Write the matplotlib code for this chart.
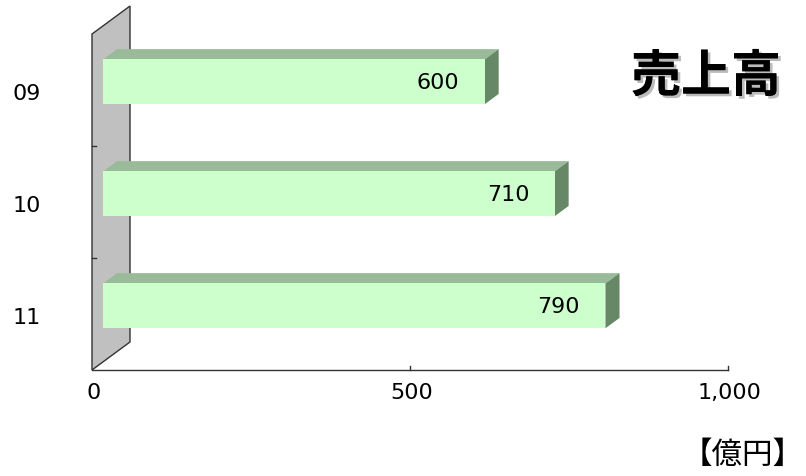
import numpy as np
import matplotlib
matplotlib.use('Agg')
import matplotlib.pyplot as plt
from matplotlib.patches import Polygon
import matplotlib.patheffects as pe

# ─── Datos ────────────────────────────────────────────────────────────────────
categorias = ["09", "10", "11"]
valores = [600, 710, 790]
ticks_x = [0, 500, 1000]
etiquetas_x = ["0", "500", "1,000"]
titulo = "売上高"
unidad = "【億円】"

plt.rcParams['font.family'] = ['Noto Sans CJK JP', 'DejaVu Sans']
NUM = ['DejaVu Sans']

W, H = 806, 477
fig = plt.figure(figsize=(W / 100, H / 100), dpi=100)
fig.patch.set_facecolor('white')

# plano frontal del gráfico 3D (px): x 92..728, y 35..371
ax = fig.add_axes([92 / W, 1 - 371 / H, 636 / W, 336 / H])
ax.set_xlim(0, 1000)
ax.set_ylim(len(categorias) - 0.5, -0.5)
ax.axis('off')

# vector de profundidad (en unidades de datos)
DX = 38 / 0.636          # 38 px hacia la derecha
DY = -28 / 112           # 28 px hacia arriba
D0, D1 = 0.29, 0.66      # profundidad de la cara frontal / trasera de la barra
MEDIA = 0.2              # media altura de la barra

# pared trasera (gris)
y0, y1 = -0.5, len(categorias) - 0.5
pared = Polygon([(0, y0), (0, y1), (DX, y1 + DY), (DX, y0 + DY)],
                closed=True, facecolor='#C0C0C0', edgecolor='#333333',
                linewidth=1.0, clip_on=False, zorder=1)
ax.add_patch(pared)

# eje x (borde frontal del suelo)
ax.plot([0, 1000], [y1, y1], color='#333333', linewidth=1.0,
        clip_on=False, zorder=2)
for t in ticks_x[1:]:
    ax.plot([t, t], [y1, y1 - 0.04], color='#333333', linewidth=1.0,
            clip_on=False, zorder=2)
for t, lab in zip(ticks_x, etiquetas_x):
    ax.text(t + 3, y1 + 0.2, lab, ha='center', va='center', fontsize=16,
            family=NUM, color='black', clip_on=False)

# marcas del eje y entre categorías
for k in range(1, len(categorias)):
    yk = k - 0.5
    ax.plot([0, 6], [yk, yk], color='#333333', linewidth=1.0,
            clip_on=False, zorder=2)

# barras 3D
for i, (cat, v) in enumerate(zip(categorias, valores)):
    xf, yf = D0 * DX, i + D0 * DY
    xb, yb = D1 * DX, i + D1 * DY
    frente = Polygon([(xf, yf - MEDIA), (xf + v, yf - MEDIA),
                      (xf + v, yf + MEDIA), (xf, yf + MEDIA)],
                     closed=True, facecolor='#CCFFCC', edgecolor='none',
                     clip_on=False, zorder=5)
    arriba = Polygon([(xf, yf - MEDIA), (xf + v, yf - MEDIA),
                      (xb + v, yb - MEDIA), (xb, yb - MEDIA)],
                     closed=True, facecolor='#99BB99', edgecolor='none',
                     clip_on=False, zorder=4)
    lado = Polygon([(xf + v, yf - MEDIA), (xb + v, yb - MEDIA),
                    (xb + v, yb + MEDIA), (xf + v, yf + MEDIA)],
                   closed=True, facecolor='#668866', edgecolor='none',
                   clip_on=False, zorder=4)
    for p in (arriba, lado, frente):
        ax.add_patch(p)
    ax.text(xf + v - 40, yf, f"{v}", ha='right', va='center', fontsize=16,
            family=NUM, color='black', zorder=6, clip_on=False)
    ax.text(-102, i + 0.03, cat, ha='center', va='center', fontsize=16,
            family=NUM, color='black', clip_on=False)

# título con sombra
fig.text(706 / W, 1 - 78 / H, titulo, ha='center', va='center',
         fontsize=36, fontweight='bold', color='black',
         path_effects=[pe.withSimplePatchShadow(offset=(2, -2),
                                                shadow_rgbFace='#AAAAAA',
                                                alpha=0.8),
                       pe.Normal()])

fig.text(804 / W, 1 - 455 / H, unidad, ha='right', va='center',
         fontsize=22, color='black')

fig.savefig('out.png', dpi=100, facecolor='white')
